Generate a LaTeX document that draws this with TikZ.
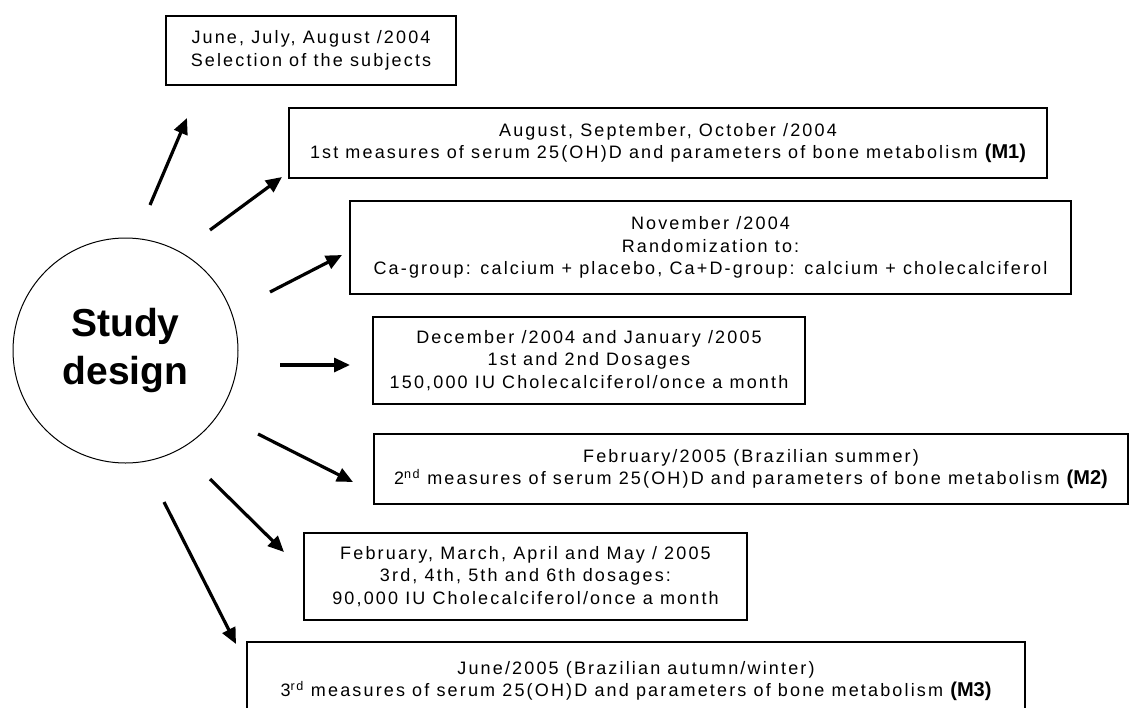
\documentclass[tikz,border=0pt]{standalone}
\usepackage{fontspec}
\setmainfont{Liberation Sans}[LetterSpace=12]
\newfontfamily\titlefont{Liberation Sans}
\usetikzlibrary{arrows.meta}
\tikzset{
  box/.style={draw=black, line width=1.6pt, fill=white, inner sep=0pt, align=center,
    font=\fontsize{18}{22.5}\selectfont},
  arr/.style={line width=3.2pt, -{Triangle[length=16pt,width=14pt]}},
}
\newcommand{\mlabel}[1]{{\titlefont\fontsize{20}{20}\selectfont\bfseries #1}}
\begin{document}
\begin{tikzpicture}[x=1pt,y=-1pt]
\clip (0,0) rectangle (1131,707);
\fill[white] (0,0) rectangle (1131,707);
\node[draw=black, line width=1pt, circle, minimum size=225pt, inner sep=0pt, align=center,
  font=\titlefont\fontsize{39}{48}\selectfont\bfseries] (sd) at (125.5,350.5) {Study\\design};
\node[box, minimum width=290pt, minimum height=69pt] (b1) at (311,50.5)
  {June, July, August /2004\\Selection of the subjects};
\node[box, minimum width=758pt, minimum height=70pt] (b2) at (668,143)
  {August, September, October /2004\\1st measures of serum 25(OH)D and parameters of bone metabolism \mlabel{(M1)}};
\node[box, minimum width=721pt, minimum height=93pt] (b3) at (710.5,247.5)
  {November /2004\\Randomization to:\\Ca-group: calcium + placebo, Ca+D-group: calcium + cholecalciferol};
\node[box, minimum width=432pt, minimum height=87pt] (b4) at (589,360.5)
  {December /2004 and January /2005\\1st and 2nd Dosages\\150,000 IU Cholecalciferol/once a month};
\node[box, minimum width=754pt, minimum height=70pt] (b5) at (751,469)
  {February/2005 (Brazilian summer)\\2\textsuperscript{nd} measures of serum 25(OH)D and parameters of bone metabolism \mlabel{(M2)}};
\node[box, minimum width=443pt, minimum height=87pt] (b6) at (525.5,576.5)
  {February, March, April and May / 2005\\3rd, 4th, 5th and 6th dosages:\\90,000 IU Cholecalciferol/once a month};
\node[box, minimum width=778pt, minimum height=78pt] (b7) at (636,681)
  {June/2005 (Brazilian autumn/winter)\\3\textsuperscript{rd} measures of serum 25(OH)D and parameters of bone metabolism \mlabel{(M3)}};
% arrow ends
\coordinate (s1) at (150,205);  \coordinate (e1) at (187,118);
\coordinate (s2) at (210,230);  \coordinate (e2) at (282,177);
\coordinate (s3) at (270,292);  \coordinate (e3) at (342,255);
\coordinate (s4) at (280,365);  \coordinate (e4) at (350,365);
\coordinate (s5) at (258,434);  \coordinate (e5) at (353,482);
\coordinate (s6) at (210,479);  \coordinate (e6) at (284,552);
\coordinate (s7) at (164,502);  \coordinate (e7) at (236,644);
\foreach \i in {1,...,7} { \draw[arr] (s\i) -- (e\i); }
\end{tikzpicture}
\end{document}
